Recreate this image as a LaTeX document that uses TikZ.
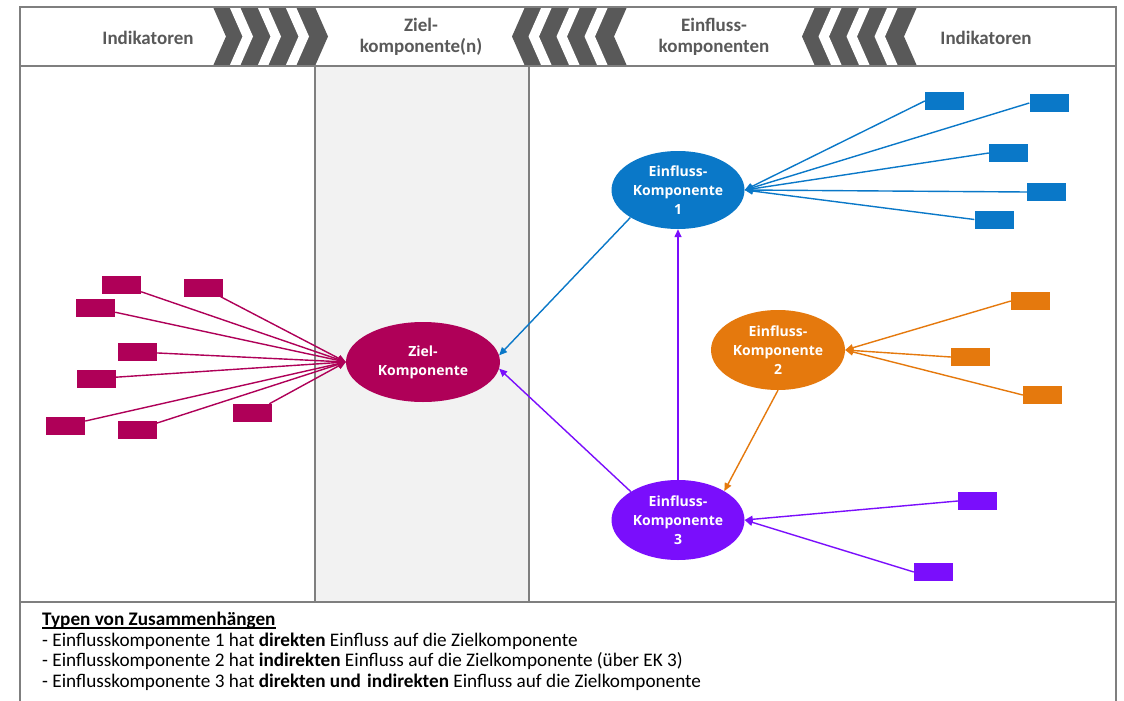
\documentclass[tikz,border=0pt]{standalone}
\usepackage{fontspec}
\setmainfont{Carlito}
\newfontfamily\ellfont{Open Sans}
\usetikzlibrary{arrows.meta,shapes.geometric}
\definecolor{mag}{HTML}{AF0058}
\definecolor{blu}{HTML}{0A78C8}
\definecolor{ora}{HTML}{E5790D}
\definecolor{pur}{HTML}{7A0EFC}
\definecolor{chev}{HTML}{595959}
\definecolor{frm}{HTML}{7F7F7F}
\definecolor{colbg}{HTML}{F2F2F2}
\begin{document}
\begin{tikzpicture}[x=1pt,y=-1pt,
  frame/.style={draw=frm, line width=2pt},
  ell/.style={ellipse, inner sep=0pt, text=white, font=\ellfont\bfseries\fontsize{14}{19}\selectfont, align=center},
  ind/.style={rectangle, minimum width=39pt, minimum height=18pt, inner sep=0pt},
  conn/.style={line width=1.4pt, -{Triangle[length=8pt,width=7pt]}},
  hdr/.style={text=chev, font=\bfseries\fontsize{19}{21}\selectfont, align=center, inner sep=0pt},
  txt/.style={anchor=base west, inner sep=0pt, font=\fontsize{19.2}{21}\selectfont}
]
\useasboundingbox (0,0) rectangle (1124,701);
\fill[white] (0,0) rectangle (1124,701);

% header chevrons
\foreach \x in {213} {
  \fill[chev] (\x,7) -- ({\x+13},36.5) -- (\x,66) -- ({\x+102},66) -- ({\x+115},36.5) -- ({\x+102},7) -- cycle;
  \foreach \s in {16.5,44.5,72.5}
    \fill[white] ({\x+\s},7) -- ({\x+\s+13},36.5) -- ({\x+\s},66) -- ({\x+\s+10.5},66) -- ({\x+\s+23.5},36.5) -- ({\x+\s+10.5},7) -- cycle;
}
\foreach \x in {525,815} {
  \fill[chev] (\x,7) -- ({\x-13},36.5) -- (\x,66) -- ({\x+102},66) -- ({\x+89},36.5) -- ({\x+102},7) -- cycle;
  \foreach \s in {16.5,44.5,72.5}
    \fill[white] ({\x+\s},7) -- ({\x+\s-13},36.5) -- ({\x+\s},66) -- ({\x+\s+10.5},66) -- ({\x+\s-2.5},36.5) -- ({\x+\s+10.5},7) -- cycle;
}

% panels
\fill[colbg] (315,66) rectangle (529,602);
\draw[frame] (20,7) rectangle (1116,66);
\draw[frame] (20,66) rectangle (1116,602);
\draw[frame] (315,66) -- (315,602);
\draw[frame] (529,66) -- (529,602);
\draw[frame] (20,602) -- (20,702);
\draw[frame] (1116,602) -- (1116,702);

% header texts
\node[hdr] (h1) at (148,38) {Indikatoren};
\node[hdr] (h2) at (421,37) {Ziel-\\komponente(n)};
\node[hdr] (h3) at (714,37) {Einfluss-\\komponenten};
\node[hdr] (h4) at (986,38) {Indikatoren};

% component ellipses
\node[ell, fill=mag, minimum width=154pt, minimum height=80pt] (zk) at (423,362) {Ziel-\\Komponente};
\node[ell, fill=blu, minimum width=133pt, minimum height=78pt] (ek1) at (678,190) {Einfluss-\\Komponente\\1};
\node[ell, fill=ora, minimum width=134pt, minimum height=80pt] (ek2) at (778,350) {Einfluss-\\Komponente\\2};
\node[ell, fill=pur, minimum width=133pt, minimum height=80pt] (ek3) at (678,520) {Einfluss-\\Komponente\\3};

% magenta indicators
\node[ind, fill=mag] (m1) at (121.5,285) {};
\node[ind, fill=mag] (m2) at (203,287.5) {};
\node[ind, fill=mag] (m3) at (95.5,308) {};
\node[ind, fill=mag] (m4) at (137,352) {};
\node[ind, fill=mag] (m5) at (96,378.5) {};
\node[ind, fill=mag] (m6) at (65.5,425.5) {};
\node[ind, fill=mag] (m7) at (137,429.5) {};
\node[ind, fill=mag] (m8) at (252.5,413) {};
\foreach \i in {1,...,8} \draw[conn, mag] (m\i) -- (zk.west);

% blue indicators
\node[ind, fill=blu] (b1) at (944.5,101) {};
\node[ind, fill=blu] (b2) at (1049,103) {};
\node[ind, fill=blu] (b3) at (1008.5,153) {};
\node[ind, fill=blu] (b4) at (1046.5,192) {};
\node[ind, fill=blu] (b5) at (994,219.5) {};
\foreach \i in {1,...,5} \draw[conn, blu] (b\i.west) -- (ek1.east);

% orange indicators
\node[ind, fill=ora] (o1) at (1030.5,301) {};
\node[ind, fill=ora] (o2) at (970.5,357) {};
\node[ind, fill=ora] (o3) at (1042.5,395) {};
\foreach \i in {1,2,3} \draw[conn, ora] (o\i.west) -- (ek2.east);

% purple indicators
\node[ind, fill=pur] (p1) at (977.5,501) {};
\node[ind, fill=pur] (p2) at (933.5,572) {};
\foreach \i in {1,2} \draw[conn, pur] (p\i.west) -- (ek3.east);

% component relations
\draw[conn, blu] (ek1.210) -- (zk.5);
\draw[conn, pur] (ek3.149) -- (zk.-5);
\draw[conn, pur] (ek3.north) -- (ek1.south);
\draw[conn, ora] (ek2.south) -- (ek3.32);

% bottom text
\node[txt, font=\bfseries\fontsize{19.2}{21}\selectfont] (t0) at (42,625) {Typen von Zusammenhängen};
\draw[line width=1.3pt] ([yshift=-3pt]t0.base west) -- ([yshift=-3pt]t0.base east);
\node[txt] (t1) at (42,646) {- Einflusskomponente 1 hat \textbf{direkten} Einfluss auf die Zielkomponente};
\node[txt] (t2) at (42,666.5) {- Einflusskomponente 2 hat \textbf{indirekten} Einfluss auf die Zielkomponente (über EK 3)};
\node[txt] (t3) at (42,687) {- Einflusskomponente 3 hat \textbf{direkten und\hspace{2pt} indirekten} Einfluss auf die Zielkomponente};
\end{tikzpicture}
\end{document}
